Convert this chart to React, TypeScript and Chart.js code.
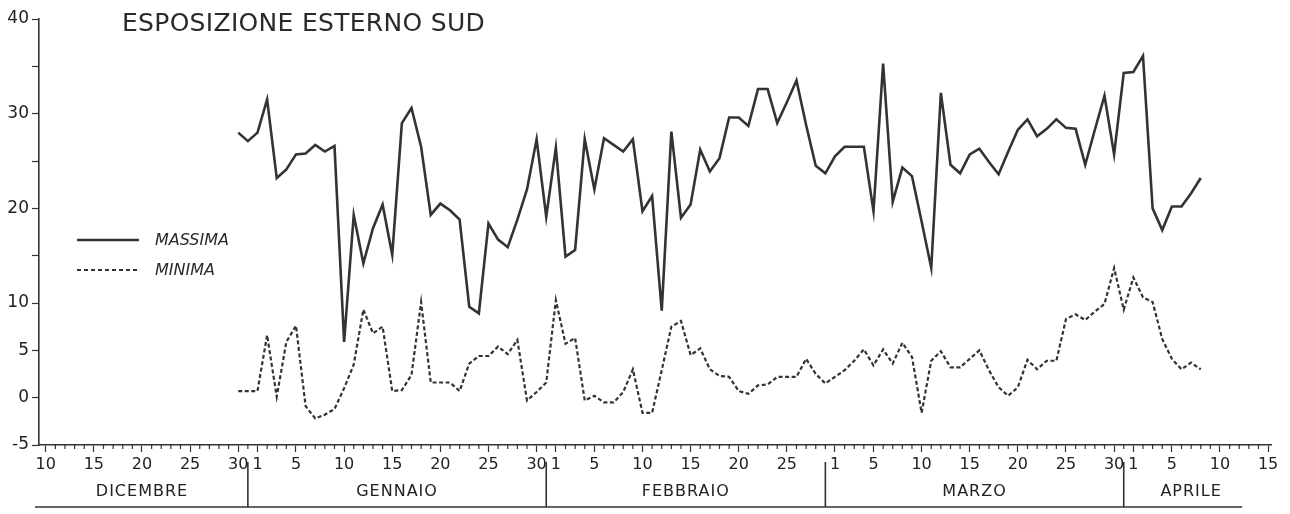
import { useEffect, useRef } from 'react';
import { Chart, registerables, type Plugin } from 'chart.js';

Chart.register(...registerables);

// Asse x: indice del giorno, 0 = 10 dicembre (febbraio di 29 giorni)
const FIRST_DAY = 20; // 30 dicembre, primo giorno misurato
const LAST_DAY = 127; // 15 aprile

const massima = [
  28.0, 27.1, 28.0, 31.5, 23.2, 24.1, 25.7, 25.8, 26.7, 26.0,
  26.6, 5.9, 19.3, 14.2, 17.9, 20.4, 15.1, 29.0, 30.6, 26.5,
  19.3, 20.5, 19.8, 18.8, 9.6, 8.9, 18.4, 16.7, 15.9, 18.8,
  22.0, 27.3, 19.1, 26.4, 14.9, 15.6, 27.3, 22.0, 27.4, 26.7,
  26.0, 27.3, 19.7, 21.3, 9.2, 28.1, 19.0, 20.4, 26.2, 23.9,
  25.3, 29.6, 29.6, 28.7, 32.6, 32.6, 29.0, 31.2, 33.5, 28.8,
  24.5, 23.7, 25.5, 26.5, 26.5, 26.5, 19.7, 35.3, 20.7, 24.3,
  23.4, 18.6, 13.7, 32.2, 24.6, 23.7, 25.7, 26.3, 24.9, 23.6,
  26.0, 28.3, 29.4, 27.6, 28.4, 29.4, 28.5, 28.4, 24.6, 28.3,
  31.9, 25.7, 34.3, 34.4, 36.1, 20.0, 17.7, 20.2, 20.2, 21.6,
  23.2,
];

const minima = [
  0.7, 0.7, 0.7, 6.6, 0.1, 5.9, 7.6, -0.9, -2.2, -1.8,
  -1.2, 1.0, 3.5, 9.3, 6.8, 7.5, 0.7, 0.8, 2.4, 10.1,
  1.6, 1.6, 1.6, 0.7, 3.6, 4.4, 4.4, 5.4, 4.6, 6.1,
  -0.3, 0.6, 1.6, 10.3, 5.7, 6.3, -0.3, 0.2, -0.5, -0.5,
  0.6, 3.0, -1.6, -1.6, 2.9, 7.5, 8.1, 4.5, 5.2, 3.0,
  2.3, 2.2, 0.7, 0.4, 1.3, 1.4, 2.2, 2.2, 2.2, 4.1,
  2.5, 1.5, 2.2, 2.9, 3.9, 5.1, 3.4, 5.1, 3.6, 5.8,
  4.3, -1.6, 3.9, 4.9, 3.2, 3.2, 4.1, 5.0, 2.9, 1.1,
  0.2, 1.1, 4.0, 3.0, 3.9, 3.9, 8.3, 8.8, 8.2, 9.1,
  9.9, 13.7, 9.3, 12.7, 10.6, 10.1, 6.2, 4.1, 3.0, 3.7,
  3.0,
];

const tickDays = [
  0, 5, 10, 15, 20,
  22, 26, 31, 36, 41, 46, 51,
  53, 57, 62, 67, 72, 77,
  82, 86, 91, 96, 101, 106, 111,
  113, 117, 122, 127,
];
const tickLabels = [
  '10', '15', '20', '25', '30',
  '1', '5', '10', '15', '20', '25', '30',
  '1', '5', '10', '15', '20', '25',
  '1', '5', '10', '15', '20', '25', '30',
  '1', '5', '10', '15',
];

const yTicks = [-5, 0, 5, 10, 15, 20, 25, 30, 35, 40];
const yLabelled = [-5, 0, 5, 10, 20, 30, 40];

const months = ['DICEMBRE', 'GENNAIO', 'FEBBRAIO', 'MARZO', 'APRILE'];
const monthFrom = [-1, 21, 52, 81, 112];
const monthTo = [21, 52, 81, 112, 126];
const MONTH_LINE_END = 124.3;

const INK = '#333333';
const FONT = '"DejaVu Sans", "Noto Sans", sans-serif';

// tacche giornaliere e riga dei mesi sotto l'asse
const axisDecor: Plugin<'line'> = {
  id: 'axisDecor',
  afterDraw(chart) {
    const { ctx, chartArea } = chart;
    const x = chart.scales.x;
    const bottom = chartArea.bottom;
    ctx.save();
    ctx.strokeStyle = INK;
    ctx.lineWidth = 1.2;

    ctx.beginPath();
    for (let d = 0; d <= LAST_DAY; d++) {
      if (tickDays.includes(d)) continue;
      const px = x.getPixelForValue(d);
      ctx.moveTo(px, bottom);
      ctx.lineTo(px, bottom + 4);
    }
    ctx.stroke();

    const sepTop = bottom + 17;
    const lineY = bottom + 62;
    ctx.lineWidth = 1.6;
    ctx.beginPath();
    for (let i = 1; i < months.length; i++) {
      const px = x.getPixelForValue(monthFrom[i]);
      ctx.moveTo(px, sepTop);
      ctx.lineTo(px, lineY);
    }
    ctx.moveTo(chartArea.left - 4, lineY);
    ctx.lineTo(x.getPixelForValue(MONTH_LINE_END), lineY);
    ctx.stroke();

    ctx.fillStyle = '#222';
    ctx.font = `16px ${FONT}`;
    (ctx as CanvasRenderingContext2D & { letterSpacing: string }).letterSpacing = '1px';
    ctx.textAlign = 'center';
    ctx.textBaseline = 'middle';
    months.forEach((m, i) => {
      const px = x.getPixelForValue((monthFrom[i] + monthTo[i]) / 2);
      ctx.fillText(m, px, bottom + 47);
    });
    ctx.restore();
  },
};

export default function App() {
  const canvasRef = useRef<HTMLCanvasElement>(null);

  useEffect(() => {
    if (!canvasRef.current) return;
    const chart = new Chart(canvasRef.current, {
      type: 'line',
      data: {
        datasets: [
          {
            label: 'MASSIMA',
            data: massima.map((v, i) => ({ x: FIRST_DAY + i, y: v })),
            borderColor: INK,
            borderWidth: 2.6,
            pointRadius: 0,
            tension: 0,
          },
          {
            label: 'MINIMA',
            data: minima.map((v, i) => ({ x: FIRST_DAY + i, y: v })),
            borderColor: INK,
            borderWidth: 2.2,
            borderDash: [4, 2.5],
            pointRadius: 0,
            tension: 0,
          },
        ],
      },
      options: {
        responsive: true,
        maintainAspectRatio: false,
        animation: false,
        layout: { padding: { top: 19, right: 19, left: 0, bottom: 0 } },
        plugins: {
          legend: { display: false },
          title: { display: false },
          tooltip: { enabled: false },
        },
        scales: {
          x: {
            type: 'linear',
            min: -0.7,
            max: 127.3,
            afterBuildTicks: (scale) => {
              scale.ticks = tickDays.map(v => ({ value: v }));
            },
            afterFit: (scale) => { scale.height = 69; },
            grid: { drawOnChartArea: false, tickLength: 7, tickColor: INK, tickWidth: 1.2 },
            border: { color: INK, width: 1.6 },
            ticks: {
              autoSkip: false,
              maxRotation: 0,
              padding: 3,
              color: '#222',
              font: { family: FONT, size: 16 },
              callback: (_v, i) => tickLabels[i],
            },
          },
          y: {
            type: 'linear',
            min: -5,
            max: 40,
            afterBuildTicks: (scale) => {
              scale.ticks = yTicks.map(v => ({ value: v }));
            },
            afterFit: (scale) => { scale.width = 39; },
            grid: { drawOnChartArea: false, tickLength: 7, tickColor: INK, tickWidth: 1.2 },
            border: { color: INK, width: 1.6 },
            ticks: {
              padding: 3,
              color: '#222',
              font: { family: FONT, size: 17 },
              callback: (v) => (yLabelled.includes(Number(v)) ? String(v) : ''),
            },
          },
        },
      },
      plugins: [axisDecor],
    });
    return () => chart.destroy();
  }, []);

  return (
    <div style={{ position: 'fixed', inset: 0, background: '#fff', fontFamily: FONT }}>
      <div style={{ position: 'absolute', left: 0, top: 0, width: 1290, height: 514 }}>
        <canvas ref={canvasRef} />
      </div>
      <div style={{
        position: 'absolute', left: 122, top: 10, fontSize: 25, lineHeight: '25px',
        letterSpacing: '0.3px', color: '#2a2a2a', whiteSpace: 'nowrap',
      }}>
        ESPOSIZIONE ESTERNO SUD
      </div>
      <LegendRow top={232} label="MASSIMA" dashed={false} />
      <LegendRow top={262} label="MINIMA" dashed />
    </div>
  );
}

function LegendRow({ top, label, dashed }: { top: number; label: string; dashed: boolean }) {
  return (
    <div style={{ position: 'absolute', left: 77, top, height: 16, display: 'flex', alignItems: 'center' }}>
      <svg width={62} height={16} style={{ display: 'block' }}>
        <line x1={0} y1={8} x2={62} y2={8} stroke={INK} strokeWidth={dashed ? 1.8 : 2.4}
          strokeDasharray={dashed ? '4 3' : undefined} />
      </svg>
      <span style={{
        marginLeft: 16, fontSize: 16, lineHeight: '16px', fontStyle: 'italic',
        color: '#2a2a2a', whiteSpace: 'nowrap',
      }}>
        {label}
      </span>
    </div>
  );
}
